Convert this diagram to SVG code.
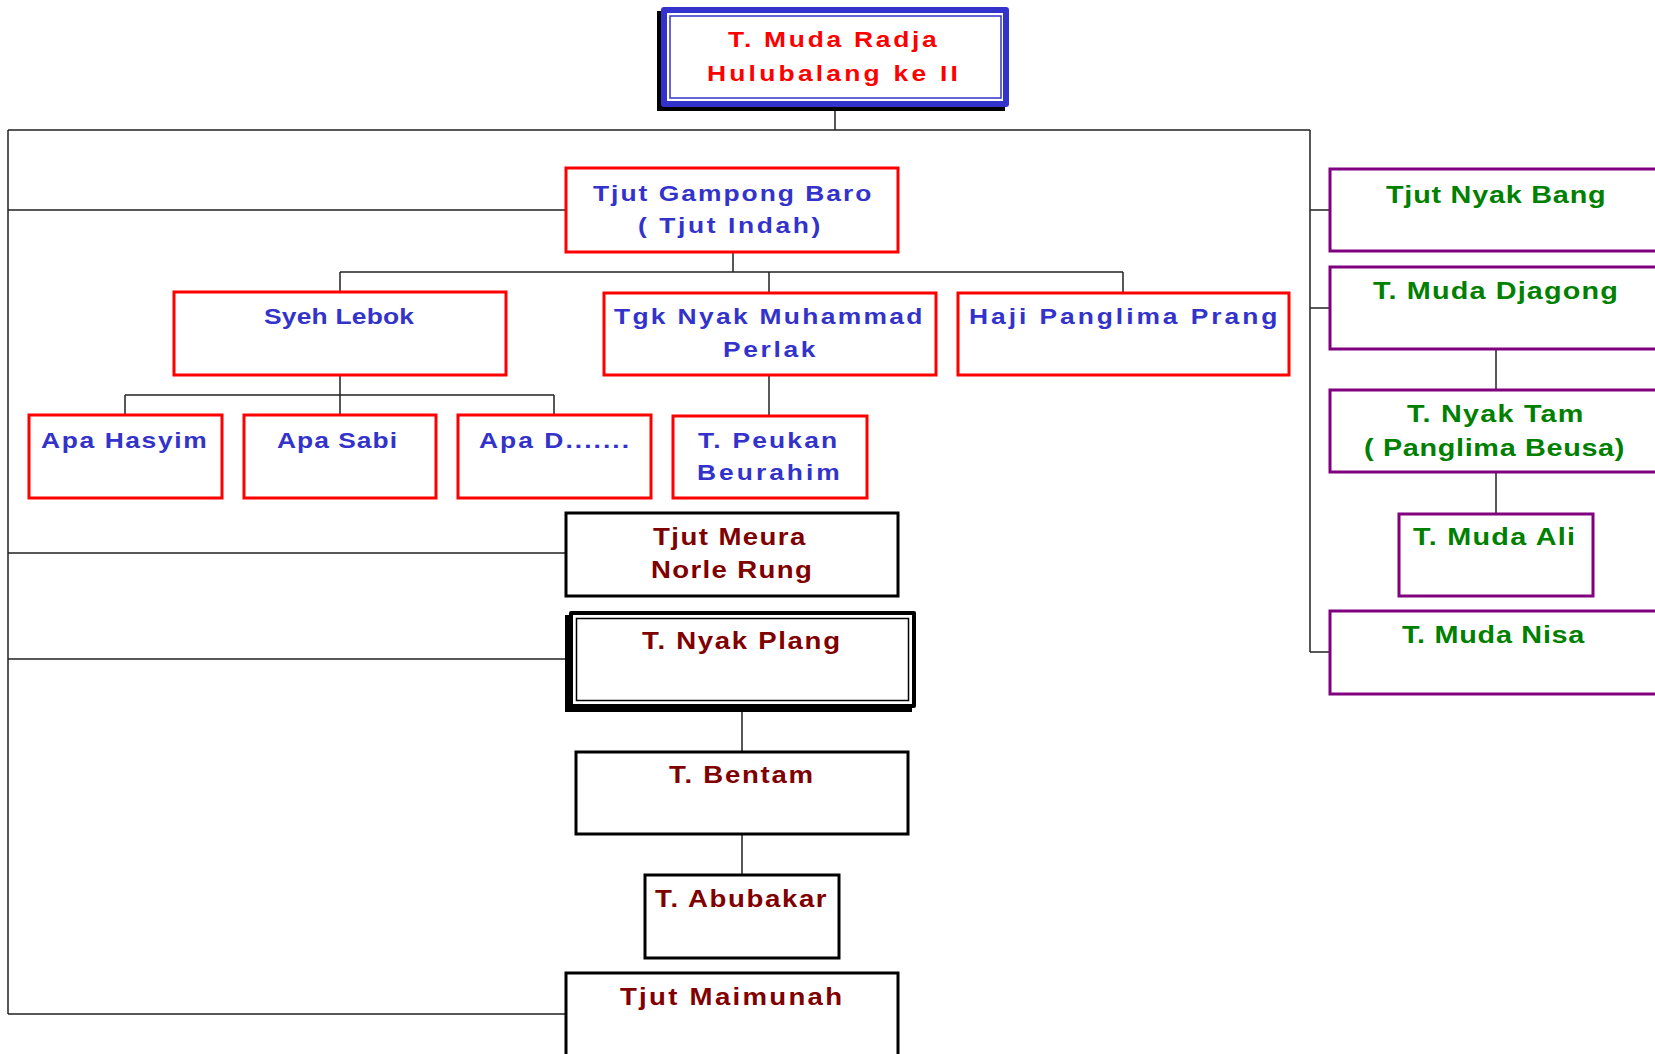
<svg xmlns="http://www.w3.org/2000/svg" width="1655" height="1054" viewBox="0 0 1655 1054">
<style>
text{font-family:"Liberation Sans",Arial,sans-serif;font-weight:bold;}
.red{fill:#FF0000;font-size:22px;}
.blue{fill:#3333CC;font-size:22px;}
.dred{fill:#800000;font-size:23px;}
.green{fill:#008000;font-size:24px;}
.rbox{fill:#fff;stroke:#FF0000;stroke-width:3;}
.kbox{fill:#fff;stroke:#000;stroke-width:3;}
.pbox{fill:#fff;stroke:#800080;stroke-width:3;}
.conn{fill:none;stroke:#222;stroke-width:1.5;}
</style>
<rect width="1655" height="1054" fill="#fff"/>
<g id="connectors" class="conn">
<path d="M835 107V130M8 130H1310M8 130V1014"/>
<path d="M8 210H566M8 553H566M8 659H566M8 1014H566"/>
<path d="M1310 130V652M1310 210H1330M1310 308H1330M1310 652H1330"/>
<path d="M733 252V272M340 272H1123M340 272V292M769 272V293M1123 272V293"/>
<path d="M340 375V415M125 395H554M125 395V415M554 395V415"/>
<path d="M769 375V416"/>
<path d="M1496 349V390M1496 472V514"/>
<path d="M742 712V752M742 834V875"/>
</g>
<g id="n-muda-radja">
<rect x="657" y="11" width="348" height="100" fill="#000"/>
<rect x="661" y="7" width="348" height="100" rx="3" fill="#3333CC"/>
<rect x="667" y="13" width="336" height="88" fill="#fff"/>
<rect x="670" y="16" width="331" height="82" fill="none" stroke="#3333CC" stroke-width="1.5"/>
<text class="red" transform="translate(728,47) scale(1.2,1)" textLength="174" lengthAdjust="spacing">T. Muda Radja</text>
<text class="red" transform="translate(707,81) scale(1.2,1)" textLength="209" lengthAdjust="spacing">Hulubalang ke II</text>
</g>
<g id="n-tjut-gampong">
<rect class="rbox" x="566" y="168" width="332" height="84"/>
<text class="blue" transform="translate(593,201) scale(1.2,1)" textLength="232" lengthAdjust="spacing">Tjut Gampong Baro</text>
<text class="blue" transform="translate(638,233) scale(1.2,1)" textLength="152" lengthAdjust="spacing">( Tjut Indah)</text>
</g>
<g id="n-syeh-lebok">
<rect class="rbox" x="174" y="292" width="332" height="83"/>
<text class="blue" transform="translate(264,324) scale(1.2,1)" textLength="125" lengthAdjust="spacing">Syeh Lebok</text>
</g>
<g id="n-tgk-nyak">
<rect class="rbox" x="604" y="293" width="332" height="82"/>
<text class="blue" transform="translate(614,324) scale(1.2,1)" textLength="257" lengthAdjust="spacing">Tgk Nyak Muhammad</text>
<text class="blue" transform="translate(723,357) scale(1.2,1)" textLength="77" lengthAdjust="spacing">Perlak</text>
</g>
<g id="n-haji">
<rect class="rbox" x="958" y="293" width="331" height="82"/>
<text class="blue" transform="translate(969,324) scale(1.2,1)" textLength="257" lengthAdjust="spacing">Haji Panglima Prang</text>
</g>
<g id="n-apa-hasyim">
<rect class="rbox" x="29" y="415" width="193" height="83"/>
<text class="blue" transform="translate(41,448) scale(1.2,1)" textLength="138" lengthAdjust="spacing">Apa Hasyim</text>
</g>
<g id="n-apa-sabi">
<rect class="rbox" x="244" y="415" width="192" height="83"/>
<text class="blue" transform="translate(277,448) scale(1.2,1)" textLength="100" lengthAdjust="spacing">Apa Sabi</text>
</g>
<g id="n-apa-d">
<rect class="rbox" x="458" y="415" width="193" height="83"/>
<text class="blue" transform="translate(479,448) scale(1.2,1)" textLength="125" lengthAdjust="spacing">Apa D.......</text>
</g>
<g id="n-peukan">
<rect class="rbox" x="673" y="416" width="194" height="82"/>
<text class="blue" transform="translate(698,448) scale(1.2,1)" textLength="116" lengthAdjust="spacing">T. Peukan</text>
<text class="blue" transform="translate(697,480) scale(1.2,1)" textLength="119" lengthAdjust="spacing">Beurahim</text>
</g>
<g id="n-tjut-meura">
<rect class="kbox" x="566" y="513" width="332" height="83"/>
<text class="dred" transform="translate(653,545) scale(1.2,1)" textLength="127" lengthAdjust="spacing">Tjut Meura</text>
<text class="dred" transform="translate(651,578) scale(1.2,1)" textLength="134" lengthAdjust="spacing">Norle Rung</text>
</g>
<g id="n-nyak-plang">
<rect x="565" y="615" width="347" height="97" fill="#000"/>
<rect x="569" y="611" width="347" height="97" rx="2" fill="#000"/>
<rect x="573" y="615" width="339" height="89" fill="#fff"/>
<rect x="576.5" y="618.5" width="332" height="82" fill="none" stroke="#000" stroke-width="1.5"/>
<text class="dred" transform="translate(642,649) scale(1.2,1)" textLength="165" lengthAdjust="spacing">T. Nyak Plang</text>
</g>
<g id="n-bentam">
<rect class="kbox" x="576" y="752" width="332" height="82"/>
<text class="dred" transform="translate(669,783) scale(1.2,1)" textLength="120" lengthAdjust="spacing">T. Bentam</text>
</g>
<g id="n-abubakar">
<rect class="kbox" x="645" y="875" width="194" height="83"/>
<text class="dred" transform="translate(655,907) scale(1.2,1)" textLength="143" lengthAdjust="spacing">T. Abubakar</text>
</g>
<g id="n-maimunah">
<rect class="kbox" x="566" y="973" width="332" height="95"/>
<text class="dred" transform="translate(620,1005) scale(1.2,1)" textLength="185" lengthAdjust="spacing">Tjut Maimunah</text>
</g>
<g id="n-nyak-bang">
<rect class="pbox" x="1330" y="169" width="335" height="82"/>
<text class="green" transform="translate(1386,203) scale(1.2,1)" textLength="183" lengthAdjust="spacing">Tjut Nyak Bang</text>
</g>
<g id="n-djagong">
<rect class="pbox" x="1330" y="267" width="335" height="82"/>
<text class="green" transform="translate(1373,299) scale(1.2,1)" textLength="204" lengthAdjust="spacing">T. Muda Djagong</text>
</g>
<g id="n-nyak-tam">
<rect class="pbox" x="1330" y="390" width="335" height="82"/>
<text class="green" transform="translate(1407,422) scale(1.2,1)" textLength="147" lengthAdjust="spacing">T. Nyak Tam</text>
<text class="green" transform="translate(1364,456) scale(1.2,1)" textLength="217" lengthAdjust="spacing">( Panglima Beusa)</text>
</g>
<g id="n-muda-ali">
<rect class="pbox" x="1399" y="514" width="194" height="82"/>
<text class="green" transform="translate(1413,545) scale(1.2,1)" textLength="135" lengthAdjust="spacing">T. Muda Ali</text>
</g>
<g id="n-muda-nisa">
<rect class="pbox" x="1330" y="611" width="335" height="83"/>
<text class="green" transform="translate(1402,643) scale(1.2,1)" textLength="152" lengthAdjust="spacing">T. Muda Nisa</text>
</g>
</svg>
